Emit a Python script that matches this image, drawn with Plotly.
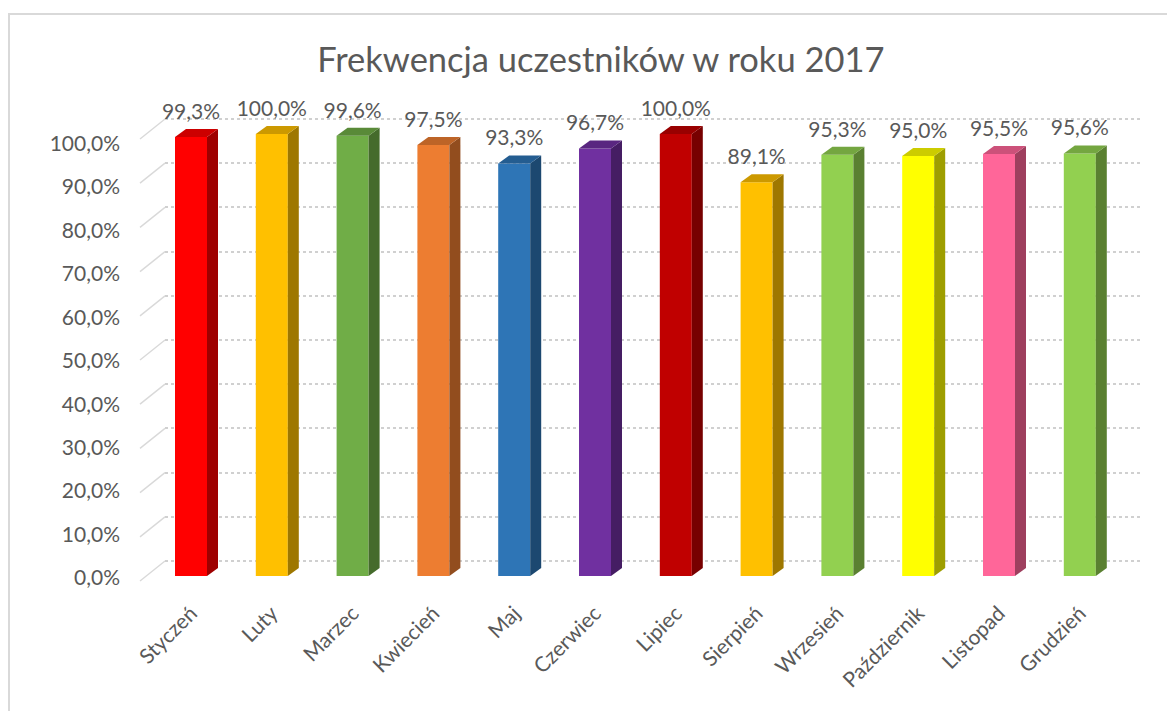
import plotly.graph_objects as go

months = ["Styczeń", "Luty", "Marzec", "Kwiecień", "Maj", "Czerwiec",
          "Lipiec", "Sierpień", "Wrzesień", "Październik", "Listopad", "Grudzień"]
attendance = [99.3, 100.0, 99.6, 97.5, 93.3, 96.7, 100.0, 89.1, 95.3, 95.0, 95.5, 95.6]
bar_colors = ["#FF0000", "#FFC000", "#70AD47", "#ED7D31", "#2E75B6", "#7030A0",
              "#C00000", "#FFC000", "#92D050", "#FFFF00", "#FF6699", "#92D050"]
y_ticks = [0, 10, 20, 30, 40, 50, 60, 70, 80, 90, 100]
title_text = "Frekwencja uczestników w roku 2017"

FONT = "Lato"
TXT = "#595959"

# geometry (pixels -> units)
PX_X = 80.8      # px per category
PX_Y = 4.42      # px per percent (front face)
BAR_W = 32 / PX_X
DX = 11 / PX_X
DY = 8 / PX_Y
LABEL_GAP = 5 / PX_Y


def shade(hex_color, f):
    h = hex_color.lstrip("#")
    r, g, b = (int(h[i:i + 2], 16) for i in (0, 2, 4))
    return "#%02X%02X%02X" % (int(r * f), int(g * f), int(b * f))


xs = list(range(len(months)))
fig = go.Figure()

# side and top faces (3D effect) computed from data
for i, (v, c) in enumerate(zip(attendance, bar_colors)):
    xr = i + BAR_W / 2
    xl = i - BAR_W / 2
    fig.add_trace(go.Scatter(
        x=[xr, xr + DX, xr + DX, xr, xr],
        y=[0, DY, v + DY, v, 0],
        fill="toself", fillcolor=shade(c, 0.62), mode="lines",
        line=dict(width=0, color=shade(c, 0.62)), hoverinfo="skip", showlegend=False))
    fig.add_trace(go.Scatter(
        x=[xl, xl + DX, xr + DX, xr, xl],
        y=[v, v + DY, v + DY, v, v],
        fill="toself", fillcolor=shade(c, 0.8), mode="lines",
        line=dict(width=0, color=shade(c, 0.8)), hoverinfo="skip", showlegend=False))

# front faces
fig.add_trace(go.Bar(
    x=xs, y=attendance, width=BAR_W, marker=dict(color=bar_colors, line=dict(width=0)),
    hoverinfo="skip", showlegend=False))

# data labels
fig.add_trace(go.Scatter(
    x=xs, y=[v + DY + LABEL_GAP for v in attendance], mode="text",
    text=[f"{v:.1f}".replace(".", ",") + "%" for v in attendance],
    textposition="top center", textfont=dict(family=FONT, size=21, color=TXT),
    hoverinfo="skip", showlegend=False, cliponaxis=False))

# back-wall gridlines axis
fig.add_trace(go.Scatter(x=[0], y=[0], xaxis="x", yaxis="y2", mode="markers",
                         marker=dict(opacity=0), hoverinfo="skip", showlegend=False))
# tick label axis
fig.add_trace(go.Scatter(x=[0], y=[0], xaxis="x", yaxis="y3", mode="markers",
                         marker=dict(opacity=0), hoverinfo="skip", showlegend=False))

W, H = 1167, 703
L, R, T, B = 157, 35, 82, 135
plot_w = W - L - R
plot_h = H - T - B
y_top = plot_h / PX_Y
shift2 = 15 / PX_Y
LBL_PX = 4.345
y3_min = -1 / LBL_PX

# floor-edge diagonals at left of each back-wall gridline
diag_dx = -25 / plot_w
diag_dy = -20 / plot_h
shapes = []
for t in y_ticks:
    py = (t + shift2) * PX_Y / plot_h
    shapes.append(dict(type="line", xref="paper", yref="paper",
                       x0=0, y0=py, x1=diag_dx, y1=py + diag_dy,
                       line=dict(color="#D9D9D9", width=1.5)))
shapes.append(dict(type="rect", xref="paper", yref="paper",
                   x0=(1 - L) / plot_w, x1=1.2, y0=-0.5, y1=(H - B - 6) / plot_h,
                   line=dict(color="#D9D9D9", width=2), fillcolor="rgba(0,0,0,0)",
                   layer="below"))

fig.update_layout(
    width=W, height=H,
    margin=dict(l=L, r=R, t=T, b=B),
    paper_bgcolor="white", plot_bgcolor="rgba(0,0,0,0)",
    separators=", ",
    title=dict(text=title_text, x=0.508, xanchor="center", y=1 - 52 / H, yref="container",
               yanchor="middle", font=dict(family=FONT, size=34.5, color=TXT)),
    xaxis=dict(range=[-26 / PX_X, (plot_w - 26) / PX_X], tickmode="array", tickvals=xs,
               ticktext=months, tickangle=-45, showgrid=False, zeroline=False, showline=False,
               ticks="", ticklabelstandoff=20, tickfont=dict(family=FONT, size=21, color=TXT)),
    yaxis=dict(range=[0, y_top], showgrid=False, zeroline=False, showticklabels=False, ticks=""),
    yaxis2=dict(range=[-shift2, y_top - shift2], overlaying="y", anchor="x", tickmode="array",
                tickvals=y_ticks, showgrid=True, gridcolor="#D0D0D0", griddash="dot",
                gridwidth=2, zeroline=False, showticklabels=False, ticks=""),
    yaxis3=dict(range=[y3_min, y3_min + plot_h / LBL_PX], overlaying="y", anchor="x",
                tickmode="array", tickvals=y_ticks,
                ticktext=[f"{t:.1f}".replace(".", ",") + "%" for t in y_ticks],
                showgrid=False, zeroline=False, ticks="", ticklabelstandoff=44,
                ticklabelshift=3,
                tickfont=dict(family=FONT, size=21, color=TXT)),
    shapes=shapes,
)

fig.write_html("out.html")
